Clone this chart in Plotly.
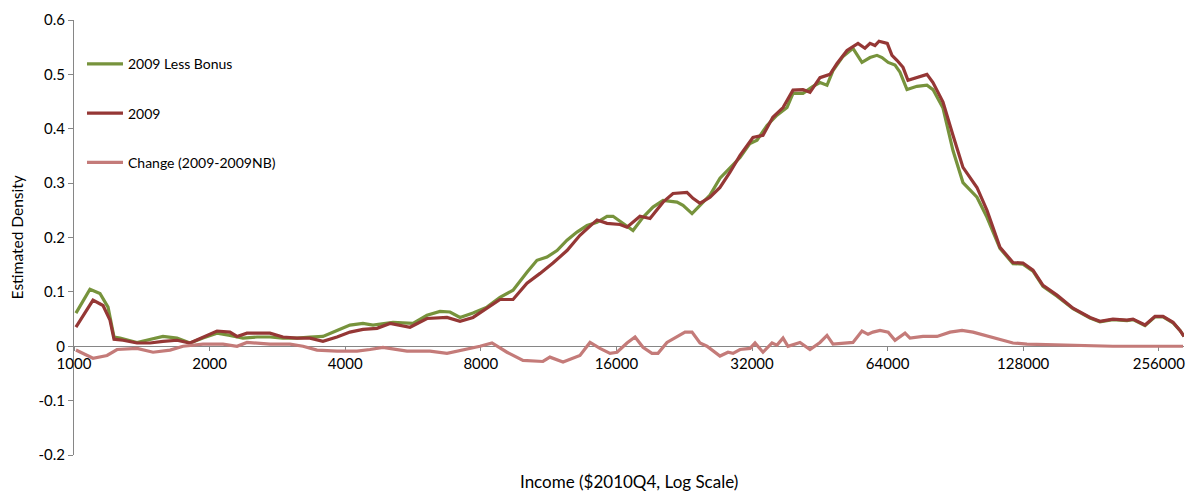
import math
import plotly.graph_objects as go

# Kernel density estimates of income, 2009 earnings with and without bonus
income_nb = [1010, 1085, 1142, 1190, 1227, 1265, 1380, 1452, 1576, 1693, 1809, 1933,
             2077, 2219, 2372, 2549, 2723, 2910, 3127, 3341, 3570, 3836,
             4099, 4380, 4611, 5107, 5657, 6076, 6494, 6835, 7194, 7688,
             8257, 8825, 9433, 10130, 10660, 11220, 11810, 12430, 13080, 13770, 14490, 15250, 15730,
             16300, 17420, 18330, 19290, 20310, 21810, 22490, 23550, 24530, 25820, 27170, 28600, 30100, 31670,
             32830, 34550, 36360, 38270, 39460, 41530, 43710, 45300, 46950, 48410, 50950, 53620,
             56140, 58500, 60620, 62200, 64190, 66470, 68190, 70670, 74370, 78270, 80710, 84950,
             89400, 94080, 101060, 106370, 113670, 121500, 127860,
             134580, 141630, 152140, 165110, 180100, 189520, 202500, 217600, 224400, 238600, 251100,
             261600, 275300, 285300, 291200]
density_nb = [0.061, 0.105, 0.097, 0.072, 0.017, 0.015, 0.007, 0.011, 0.018, 0.015, 0.006, 0.015,
              0.024, 0.020, 0.015, 0.017, 0.017, 0.015, 0.015, 0.017, 0.018, 0.029,
              0.039, 0.042, 0.039, 0.044, 0.042, 0.057, 0.064, 0.063, 0.053, 0.061,
              0.072, 0.090, 0.103, 0.136, 0.158, 0.164, 0.176, 0.195, 0.210, 0.222, 0.228, 0.239, 0.239,
              0.230, 0.213, 0.237, 0.256, 0.268, 0.265, 0.259, 0.244, 0.259, 0.278, 0.309, 0.327, 0.347, 0.373,
              0.379, 0.406, 0.425, 0.439, 0.465, 0.465, 0.478, 0.485, 0.480, 0.507, 0.533, 0.548,
              0.522, 0.531, 0.535, 0.531, 0.522, 0.517, 0.504, 0.472, 0.478, 0.480, 0.472, 0.438,
              0.360, 0.301, 0.274, 0.237, 0.180, 0.152, 0.151,
              0.138, 0.110, 0.092, 0.069, 0.052, 0.045, 0.049, 0.047, 0.049, 0.038, 0.054,
              0.054, 0.043, 0.029, 0.018]

income_2009 = [1010, 1102, 1160, 1202, 1227, 1285, 1380, 1475, 1576, 1693, 1809, 1933,
               2077, 2219, 2301, 2421, 2723, 2910, 3127, 3341, 3570, 3836,
               4099, 4380, 4706, 5030, 5571, 6076, 6730, 7194, 7688,
               8257, 8825, 9433, 10130, 10830, 11570, 12430, 13280, 14200, 14490, 15250,
               16300, 16890, 18050, 19000, 20310, 21370, 22950, 23670, 24530, 25820, 27170, 28600, 30100,
               32160, 33850, 35600, 37500, 39460, 41530, 43040, 45300, 47670, 49420, 52010, 55010,
               57000, 58500, 60000, 61250, 63900, 65450, 67130, 69250, 71030, 74370, 78270, 80710, 84950,
               89400, 94080, 101060, 106370, 113670, 121500, 127860,
               134580, 141630, 152140, 165110, 180100, 189520, 202500, 217600, 224400, 238600, 251100,
               261600, 275300, 285300, 291200]
density_2009 = [0.035, 0.085, 0.075, 0.048, 0.013, 0.011, 0.006, 0.006, 0.009, 0.011, 0.006, 0.017,
                0.028, 0.026, 0.018, 0.024, 0.024, 0.017, 0.015, 0.015, 0.009, 0.017,
                0.026, 0.031, 0.033, 0.042, 0.035, 0.051, 0.053, 0.046, 0.053,
                0.070, 0.086, 0.086, 0.116, 0.134, 0.153, 0.176, 0.204, 0.226, 0.232, 0.226,
                0.224, 0.219, 0.239, 0.235, 0.265, 0.281, 0.283, 0.272, 0.263, 0.274, 0.292, 0.320, 0.351,
                0.384, 0.388, 0.421, 0.439, 0.471, 0.472, 0.467, 0.494, 0.500, 0.520, 0.544, 0.557,
                0.548, 0.557, 0.553, 0.561, 0.557, 0.535, 0.526, 0.513, 0.489, 0.494, 0.500, 0.485, 0.449,
                0.388, 0.329, 0.292, 0.250, 0.182, 0.154, 0.153,
                0.140, 0.112, 0.094, 0.070, 0.053, 0.046, 0.050, 0.048, 0.050, 0.039, 0.055,
                0.055, 0.044, 0.029, 0.018]

income_change = [1010, 1102, 1184, 1246, 1380, 1498, 1634, 1746, 1933,
                 2142, 2301, 2421, 2723, 3016, 3224, 3463, 3836,
                 4249, 4540, 4852, 5486, 6170, 6730, 7455, 7967,
                 8471, 9146, 9925, 10990, 11390, 12180, 13280, 13980, 14710, 15490,
                 16050, 16890, 17600, 18330, 19190, 19790, 20720, 21810, 22720, 23550, 24530, 25420,
                 27170, 28310, 29040, 30100, 31680,
                 32500, 33850, 35450, 36360, 37500, 38460, 40900, 43040, 45300, 46950, 48410,
                 50950, 53620, 56140, 57910, 59390, 61570,
                 64190, 66470, 69960, 71760, 76680, 82390, 88050, 93620, 99030, 108030, 115460, 121500,
                 130510, 154500, 202500, 289700]
density_change = [-0.007, -0.022, -0.017, -0.006, -0.004, -0.011, -0.007, 0.000, 0.004,
                  0.004, 0.000, 0.007, 0.004, 0.004, 0.000, -0.007, -0.009,
                  -0.009, -0.006, -0.002, -0.009, -0.009, -0.013, -0.006, 0.000,
                  0.006, -0.011, -0.026, -0.028, -0.020, -0.029, -0.017, 0.007, -0.004, -0.013,
                  -0.011, 0.006, 0.017, -0.002, -0.013, -0.013, 0.007, 0.018, 0.026, 0.026, 0.006, 0.000,
                  -0.018, -0.011, -0.013, -0.006, -0.004,
                  0.006, -0.011, 0.006, 0.002, 0.015, 0.000, 0.007, -0.006, 0.007, 0.020, 0.004,
                  0.006, 0.007, 0.028, 0.022, 0.026, 0.029,
                  0.026, 0.011, 0.024, 0.015, 0.018, 0.018, 0.026, 0.029, 0.026, 0.018, 0.011, 0.006,
                  0.004, 0.002, 0.000, 0.000]

y_ticks = [-0.2, -0.1, 0, 0.1, 0.2, 0.3, 0.4, 0.5, 0.6]
y_tick_text = ["-0.2", "-0.1", "0", "0.1", "0.2", "0.3", "0.4", "0.5", "0.6"]
x_ticks = [1000, 2000, 4000, 8000, 16000, 32000, 64000, 128000, 256000]
x_tick_text = [str(v) for v in x_ticks]

FONT = "Lato, 'Open Sans', sans-serif"
AXIS_GREY = "#868686"
TEXT = "#000000"

fig = go.Figure()
fig.add_trace(go.Scatter(x=income_nb, y=density_nb, mode="lines",
                         name="2009 Less Bonus", legendgroup="a",
                         line=dict(color="#77933C", width=3.2)))
fig.add_trace(go.Scatter(x=income_2009, y=density_2009, mode="lines",
                         name="2009", legendgroup="b",
                         line=dict(color="#953735", width=3.2)))
fig.add_trace(go.Scatter(x=income_change, y=density_change, mode="lines",
                         name="Change (2009-2009NB)", legendgroup="c",
                         line=dict(color="#C47B79", width=3.2)))

fig.update_layout(
    width=1188, height=492, autosize=False,
    margin=dict(l=74, r=4, t=20, b=37),
    paper_bgcolor="white", plot_bgcolor="white",
    font=dict(family=FONT, size=15, color=TEXT),
    showlegend=True,
    legend=dict(x=0.0072, y=0.935, xanchor="left", yanchor="top",
                traceorder="grouped", tracegroupgap=28,
                bgcolor="rgba(0,0,0,0)", font=dict(size=14, family=FONT, color=TEXT),
                itemwidth=36),
    xaxis=dict(type="log", range=[3, math.log10(291200)],
               anchor="free", position=0.25,
               showline=True, linecolor=AXIS_GREY, linewidth=1,
               ticks="outside", ticklen=4, tickcolor=AXIS_GREY,
               tickvals=x_ticks, ticktext=x_tick_text,
               tickfont=dict(size=15, color=TEXT),
               showgrid=False, zeroline=False, layer="below traces"),
    yaxis=dict(range=[-0.2, 0.6],
               showline=True, linecolor=AXIS_GREY, linewidth=1,
               ticks="outside", ticklen=5, tickcolor=AXIS_GREY,
               tickvals=y_ticks, ticktext=y_tick_text,
               tickfont=dict(size=15, color=TEXT),
               showgrid=False, zeroline=False, layer="below traces"),
    annotations=[
        dict(text="Income ($2010Q4, Log Scale)", xref="paper", yref="paper",
             x=0.5, y=-0.062, xanchor="center", yanchor="middle",
             showarrow=False, font=dict(size=17, family=FONT, color=TEXT)),
        dict(text="Estimated Density", xref="paper", yref="paper",
             x=-0.0514, y=0.5, xanchor="center", yanchor="middle",
             textangle=-90, showarrow=False, font=dict(size=15.5, family=FONT, color=TEXT)),
    ],
)

fig.write_html("out.html")
